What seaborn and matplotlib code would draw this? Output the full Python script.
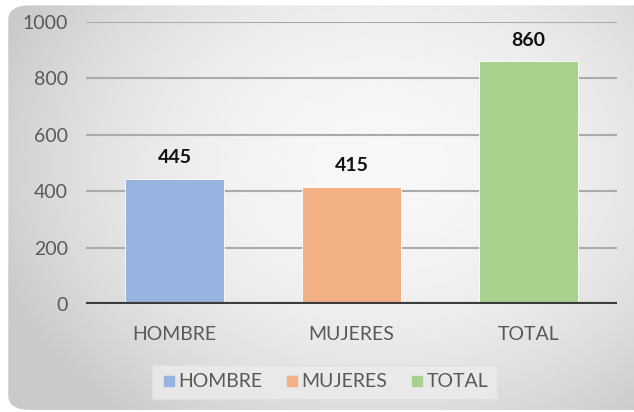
import numpy as np
import pandas as pd
import matplotlib
matplotlib.use("Agg")
import matplotlib.pyplot as plt
import seaborn as sns
from matplotlib.patches import FancyBboxPatch

# ── Data ─────────────────────────────────────────────
categories = ["HOMBRE", "MUJERES", "TOTAL"]
values = [445, 415, 860]
bar_colors = ["#97b3e0", "#f3b085", "#a9d18e"]
yticks = [0, 200, 400, 600, 800, 1000]

df = pd.DataFrame({"cat": categories, "val": values})

sns.set_style("white")
plt.rcParams["font.family"] = ["Lato", "DejaVu Sans"]

fig = plt.figure(figsize=(6.34, 4.12), dpi=100)
fig.patch.set_facecolor("white")

# ── Background: rounded panel with soft radial gradient ──
bg = fig.add_axes([0, 0, 1, 1], zorder=-10)
bg.set_xlim(0, 1)
bg.set_ylim(0, 1)
bg.axis("off")
yy, xx = np.mgrid[0:1:200j, 0:1:300j]
r = np.sqrt(((xx - 0.6) / 0.7) ** 2 + ((yy - 0.4) / 0.85) ** 2)
grad = np.clip(0.97 - 0.21 * r ** 2, 0.79, 0.97)
img = bg.imshow(grad, cmap="gray", vmin=0, vmax=1, extent=[0, 1, 0, 1],
                aspect="auto", origin="upper")
panel = FancyBboxPatch((0.013, 0.005), 1.05, 0.982,
                       boxstyle="round,pad=0,rounding_size=0.035",
                       transform=bg.transAxes, facecolor="none", edgecolor="none")
bg.add_patch(panel)
img.set_clip_path(panel)

# ── Bars ─────────────────────────────────────────────
ax = fig.add_axes([86 / 634, 1 - 304 / 412, 531 / 634, 282 / 412])
ax.set_facecolor("none")
sns.barplot(data=df, x="cat", y="val", hue="cat", palette=bar_colors,
            saturation=1, dodge=False, width=0.56, ax=ax, legend=False,
            zorder=3, edgecolor="white", linewidth=0.6)

ax.set_ylim(0, 1000)
ax.set_yticks(yticks)
ax.set_xlim(-0.5, 2.5)
for y in yticks[1:]:
    ax.axhline(y, color="#ababab", lw=1.5, zorder=1)
ax.axhline(0, color="#3c3c3c", lw=3, zorder=4)

for i, v in enumerate(values):
    ax.annotate(str(v), (i, v), xytext=(0, 9), textcoords="offset points",
                ha="center", va="bottom", fontsize=14, fontweight="bold",
                color="#111111")

ax.set_xlabel("")
ax.set_ylabel("")
for s in ax.spines.values():
    s.set_visible(False)
ax.tick_params(axis="both", length=0, labelsize=14, colors="#595959")
ax.tick_params(axis="y", pad=13)
ax.tick_params(axis="x", pad=16)

# ── Legend ───────────────────────────────────────────
handles = [plt.Line2D([], [], marker="s", ls="", markersize=6.5,
                      markerfacecolor=c, markeredgecolor=c) for c in bar_colors]
leg = fig.legend(handles, categories, loc="center", bbox_to_anchor=(0.512, 0.073),
                 ncol=3, frameon=True, fontsize=14, handletextpad=0.1,
                 handlelength=0.8, columnspacing=1.1, borderpad=0.45,
                 fancybox=False)
leg.get_frame().set_facecolor("#ececec")
leg.get_frame().set_edgecolor("#e0e0e0")
for t in leg.get_texts():
    t.set_color("#595959")

fig.savefig("out.png", dpi=100)
